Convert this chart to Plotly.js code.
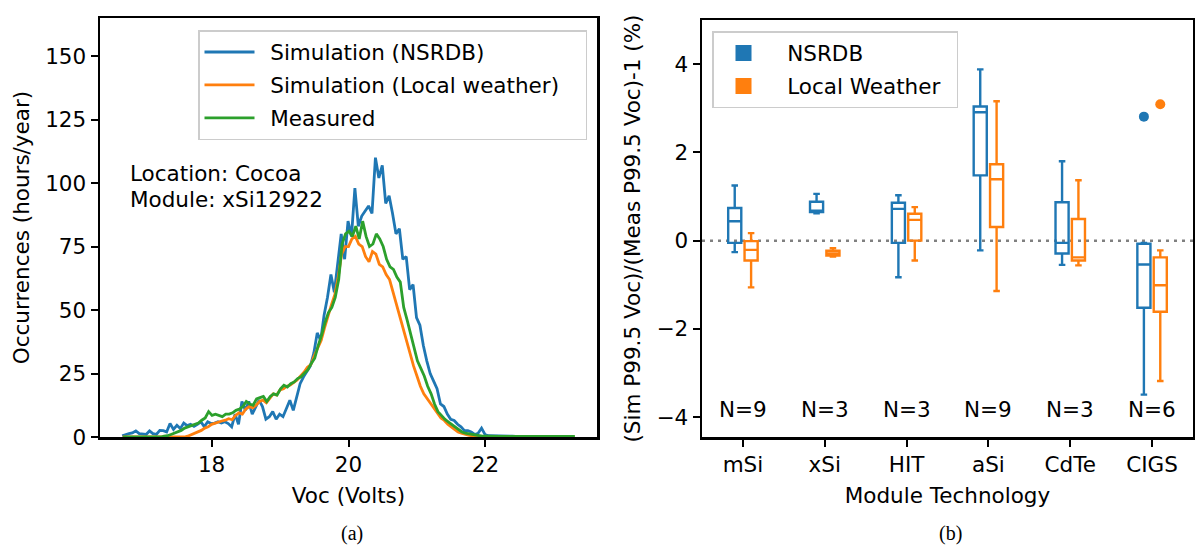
<!DOCTYPE html>
<html><head><meta charset="utf-8">
<script src="https://cdn.plot.ly/plotly-3.0.1.min.js"></script>
<style>html,body{margin:0;padding:0;background:#fff}#chart{width:1195px;height:547px}</style>
</head><body><div id="chart"></div>
<script>
// ---------- Panel (a): Voc histograms (bin centres start at 16.70 V, 0.05 V apart) ----------
const vocStart = 16.70;
const vocStep = 0.05;
const simNsrdb = [
  0.5,1,1.3,1.6,2.4,1.3,1,1,2.4,1.3,
  1,2.6,2.5,2,5.3,3,4.6,3.3,5.5,4.5,
  5,4.2,5,6,4,6,5.3,5.5,6,5.5,
  6,5.3,4,9,5,14,10.5,14,9,12,
  14.5,12,7,8,10,7,9,8,11,14.5,
  10.5,16,21,23.7,25.7,28,33,41,38,48,
  55,64,57,68,80,70,85,79,98,83,
  87,89,91,88,110,102,107,92,95,88,
  80,82,70,71,58,60,47,44,36,30,
  25,22,19,13,12,9,7,6.5,5,4,
  2.5,2.5,2,1,1.5,3.5,1,0.5,0.5,0.5,
  0.5,0.3,0.3,0.5,0.3,0.2,0,0,0,0,
  0,0,0,0,0,0,0,0,0,0,
  0,0,0
];
const simLocal = [
  0,0,0,0,0,0,0,0,0,0,
  0,0,0,0,0,0,0,0,0,0.3,
  0.8,1.5,2,2.6,3.5,4,5,5.5,6,6.3,
  6.6,7.2,6.8,8.5,9.5,9,11,12,11.5,12.5,
  14,14.5,13.5,15.5,17,16.5,18.5,19,20,20.5,
  21.5,22.5,24,25.5,27.5,28.5,32,35,38,43,
  48,52,56,63,72,75,75,78,79,76,
  75,71,69,73,72,68,67,64,62,57,
  52,48,43,37,32,28,24,20,17,15,
  13,11,9,7.5,6.5,5,4,3,2,1.5,
  1,0.7,0.5,0.3,0,0,0,0,0,0,
  0,0,0,0,0,0,0,0,0,0,
  0,0,0,0,0,0,0,0,0,0,
  0,0,0
];
const measured = [
  0,0,0,0,0,0,0,0,0,0,
  0,0,0.3,0.5,1,1.5,2,2.6,3.5,4,
  4.6,5,5.5,6.6,7.5,10,8.5,9,8.5,8,
  9,9,9.5,10.5,11,12,14,13,12.5,15,
  15.5,16,14,16,17,16.5,19,20.4,19.7,21,
  21.7,23,23.7,25,26.5,29,31,36,40,45,
  49,51,55,62,76,80,81,79,83,78,
  85,79,75,76,80,78,75,70,67,66,
  63,61,51,46,41,35,30,27,24,20,
  17,13,10,8.5,7,6,5,4,3,2,
  1.5,1.2,1,0.7,0.5,0.3,0.3,0.2,0.2,0.2,
  0.2,0.2,0.2,0.2,0.2,0.2,0.2,0.2,0.2,0.2,
  0.2,0.2,0.2,0.2,0.2,0.2,0.2,0.2,0.2,0.2,
  0.2,0.2,0.2
];
const seriesNames = ['Simulation (NSRDB)', 'Simulation (Local weather)', 'Measured'];

// ---------- Panel (b): box statistics per technology ----------
const technologies = ['mSi', 'xSi', 'HIT', 'aSi', 'CdTe', 'CIGS'];
const nModules = [9, 3, 3, 9, 3, 6];
const nsrdbMin    = [-0.26, 0.62, -0.83, -0.22, -0.55, -3.49];
const nsrdbQ1     = [-0.05, 0.65, -0.05,  1.48, -0.29, -1.52];
const nsrdbMedian = [ 0.44, 0.68,  0.72,  2.91, -0.05, -0.54];
const nsrdbQ3     = [ 0.74, 0.88,  0.86,  3.04,  0.87, -0.07];
const nsrdbMax    = [ 1.25, 1.06,  1.03,  3.88,  1.80, -0.05];
const localMin    = [-1.06, -0.36, -0.45, -1.14, -0.56, -3.18];
const localQ1     = [-0.45, -0.34,  0.00,  0.31, -0.45, -1.61];
const localMedian = [-0.21, -0.29,  0.47,  1.39, -0.38, -1.01];
const localQ3     = [-0.01, -0.23,  0.61,  1.73,  0.49, -0.38];
const localMax    = [ 0.17, -0.17,  0.76,  3.16,  1.37, -0.22];
const outlierTech = ['CIGS'];
const nsrdbOutlier = [2.81];
const localOutlier = [3.09];
const boxNames = ['NSRDB', 'Local Weather'];

const BLUE = '#1f77b4', ORANGE = '#ff7f0e', GREEN = '#2ca02c';
const voc = simNsrdb.map((_, i) => +(vocStart + i * vocStep).toFixed(2));

const W = 1195, H = 547;
const FONT = 'DejaVu Sans, Noto Sans, sans-serif';
const FS = 21.5;
const EN = '\u2002', NB = '\u00a0';

const lineColors = [BLUE, ORANGE, GREEN];
const lineSeries = [simNsrdb, simLocal, measured];
const traces = lineSeries.map((ys, k) => ({
  type: 'scatter', mode: 'lines', x: voc, y: ys,
  name: EN + seriesNames[k] + (k === 1 ? NB + NB + NB : ''),
  line: {color: lineColors[k], width: 2.8},
  xaxis: 'x', yaxis: 'y', legend: 'legend', legendgroup: 'g' + k
}));

function boxTrace(name, color, mn, q1, med, q3, mx) {
  return {
    type: 'box', name: name, orientation: 'v', x: technologies,
    q1: q1, median: med, q3: q3, lowerfence: mn, upperfence: mx,
    boxpoints: false,
    line: {color: color, width: 2.4}, fillcolor: 'rgba(0,0,0,0)', whiskerwidth: 0.5,
    xaxis: 'x2', yaxis: 'y2', showlegend: false, hoverinfo: 'skip'
  };
}
traces.push(boxTrace(boxNames[0], BLUE, nsrdbMin, nsrdbQ1, nsrdbMedian, nsrdbQ3, nsrdbMax));
traces.push(boxTrace(boxNames[1], ORANGE, localMin, localQ1, localMedian, localQ3, localMax));
// outlier points, grouped next to their boxes
[[nsrdbOutlier, BLUE], [localOutlier, ORANGE]].forEach(p => traces.push({
  type: 'scatter', mode: 'markers', x: outlierTech, y: p[0],
  marker: {color: p[1], size: 10}, xaxis: 'x2', yaxis: 'y2', showlegend: false, hoverinfo: 'skip'
}));
// legend entries for panel (b) (on a hidden axis pair)
[[boxNames[0], BLUE], [boxNames[1], ORANGE]].forEach((p, k) => traces.push({
  type: 'scatter', mode: 'markers', x: [null], y: [null],
  name: NB + NB + p[0] + (k === 1 ? EN : ''),
  marker: {symbol: 'square', size: 16, color: p[1]},
  xaxis: 'x3', yaxis: 'y3', legend: 'legend2', legendgroup: 'b' + k
}));

const axBase = {
  showline: true, linewidth: 2.5, linecolor: '#000', mirror: true,
  ticks: 'outside', ticklen: 7, tickwidth: 2, tickcolor: '#000',
  showgrid: false, zeroline: false, fixedrange: true,
  tickfont: {family: FONT, size: FS, color: '#000'}
};
const titleFont = {family: FONT, size: FS, color: '#000'};
const serifFont = {family: 'Liberation Serif, serif', size: 20, color: '#000'};

const annotations = [
  {xref: 'paper', yref: 'paper', x: 128 / W, y: 1 - 174 / H, xanchor: 'left', yanchor: 'middle',
   text: 'Location: Cocoa', showarrow: false, font: titleFont},
  {xref: 'paper', yref: 'paper', x: 128 / W, y: 1 - 199 / H, xanchor: 'left', yanchor: 'middle',
   text: 'Module: xSi12922', showarrow: false, font: titleFont},
  {xref: 'paper', yref: 'paper', x: 352 / W, y: 1 - 533 / H, xanchor: 'center', yanchor: 'middle',
   text: '(a)', showarrow: false, font: serifFont},
  {xref: 'paper', yref: 'paper', x: 950 / W, y: 1 - 533 / H, xanchor: 'center', yanchor: 'middle',
   text: '(b)', showarrow: false, font: serifFont}
];
technologies.forEach((t, i) => annotations.push({
  xref: 'x2', yref: 'y2', x: t, y: -3.82, text: 'N=' + nModules[i], showarrow: false,
  xanchor: 'center', yanchor: 'middle', font: titleFont
}));

const legendBase = {
  xanchor: 'left', yanchor: 'top', bgcolor: 'rgba(255,255,255,0.8)',
  bordercolor: '#cccccc', borderwidth: 1.5, tracegroupgap: 2, itemwidth: 50,
  font: {family: FONT, size: FS, color: '#000'}
};

const layout = {
  width: W, height: H, margin: {l: 0, r: 0, t: 0, b: 0},
  paper_bgcolor: '#fff', plot_bgcolor: '#fff',
  font: {family: FONT, size: FS, color: '#000'},
  showlegend: true,
  boxmode: 'group', boxgap: 0.6, boxgroupgap: 0.2,
  scattermode: 'group', scattergap: 0.6,
  xaxis: Object.assign({}, axBase, {
    domain: [100 / W, 597 / W], range: [16.37, 23.63], tick0: 0, dtick: 2, anchor: 'y',
    title: {text: 'Voc (Volts)', font: titleFont, standoff: 12}
  }),
  yaxis: Object.assign({}, axBase, {
    domain: [110 / H, 529 / H], range: [0, 165], tick0: 0, dtick: 25, anchor: 'x',
    title: {text: 'Occurrences (hours/year)', font: titleFont, standoff: 10}
  }),
  xaxis2: Object.assign({}, axBase, {
    domain: [702 / W, 1193 / W], type: 'category', categoryorder: 'array', categoryarray: technologies,
    range: [-0.5, 5.5], anchor: 'y2',
    title: {text: 'Module Technology', font: titleFont, standoff: 12}
  }),
  yaxis2: Object.assign({}, axBase, {
    domain: [110 / H, 527 / H], range: [-4.45, 5.0], tick0: 0, dtick: 2, anchor: 'x2',
    title: {text: '(Sim P99.5 Voc)/(Meas P99.5 Voc)-1 (%)', font: titleFont, standoff: 10}
  }),
  xaxis3: {domain: [0, 0.01], visible: false, anchor: 'y3'},
  yaxis3: {domain: [0, 0.01], visible: false, anchor: 'x3'},
  legend: Object.assign({}, legendBase, {x: 198 / W, y: 1 - 30 / H}),
  legend2: Object.assign({}, legendBase, {x: 712 / W, y: 1 - 31 / H}),
  shapes: [{type: 'line', xref: 'x2 domain', yref: 'y2', x0: 0, x1: 1, y0: 0, y1: 0, layer: 'below',
            line: {color: '#808080', width: 2.5, dash: '3px,5px'}}],
  annotations: annotations
};

Plotly.newPlot('chart', traces, layout, {staticPlot: true, displayModeBar: false});
</script>
</body></html>
